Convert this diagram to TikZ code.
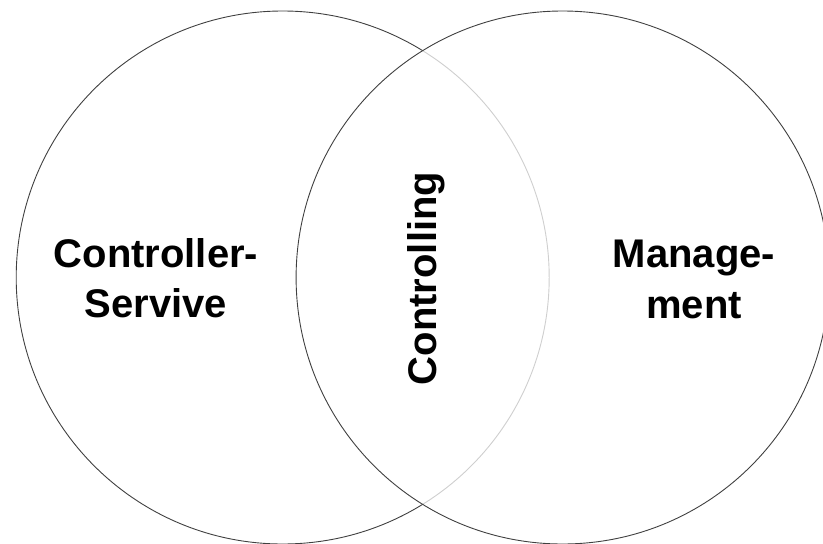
\documentclass[tikz,border=0pt]{standalone}
\usepackage{fontspec}
\setmainfont{Liberation Sans}
\begin{document}
\begin{tikzpicture}[x=1pt,y=-1pt,
  setcircle/.style={circle, draw=black!75, line width=0.9pt, minimum size=533pt, inner sep=0pt},
  label/.style={font=\bfseries\fontsize{40}{51}\selectfont, align=center, inner sep=0pt, text=black}]
\useasboundingbox (0,0) rectangle (823,544);
\node[setcircle] (left) at (282.7,277.5) {};
\node[setcircle, fill=white, fill opacity=0.75] (right) at (562.6,277.5) {};
\node[label, anchor=base] (cs1) at (156,267) {Controller-};
\node[label, anchor=base] (cs2) at (156,317) {Servive};
\node[label, anchor=base] (mg1) at (694,267) {Manage-};
\node[label, anchor=base] (mg2) at (694,318) {ment};
\node[label, rotate=90, anchor=base] (ctl) at (436,278.5) {Controlling};
\end{tikzpicture}
\end{document}
